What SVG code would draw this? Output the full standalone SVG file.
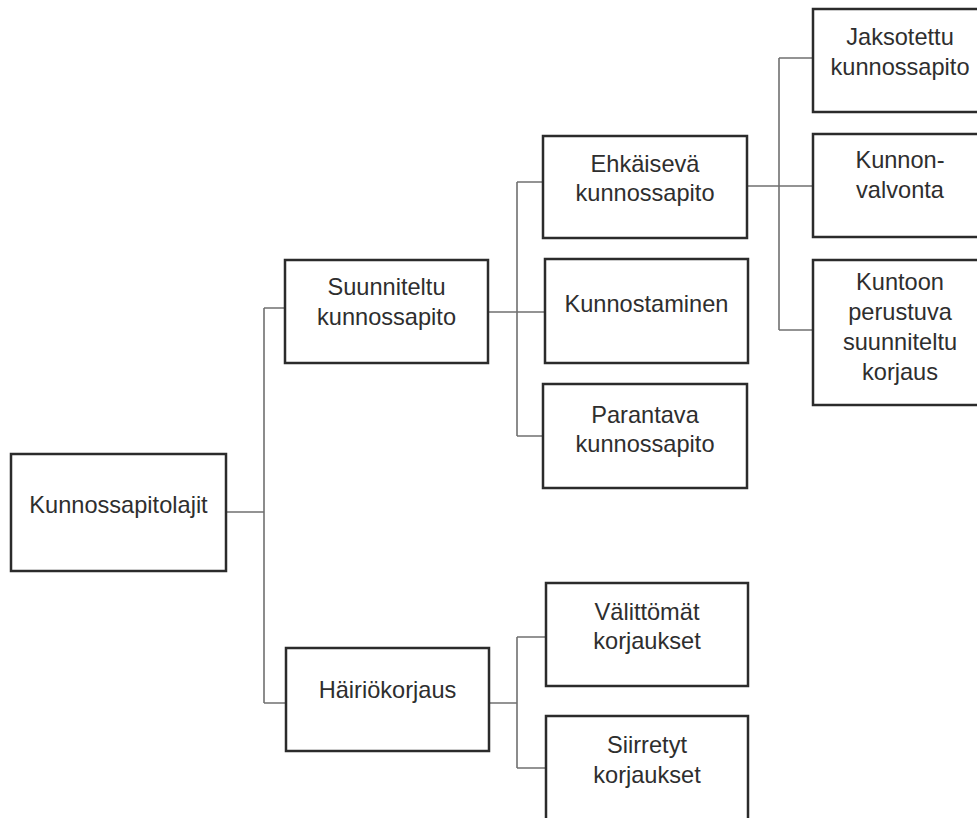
<svg xmlns="http://www.w3.org/2000/svg" width="977" height="818" viewBox="0 0 977 818">
<style>
  .box { fill: #ffffff; stroke: #2b2b2b; stroke-width: 2.5; }
  .lbl { font-family: "Liberation Sans", Arial, sans-serif; font-size: 23.6px; fill: #2e2e2e; text-anchor: middle; }
  .con { fill: none; stroke: #707070; stroke-width: 1.6; }
</style>
<rect width="977" height="818" fill="#ffffff"/>
<g id="connectors">
  <path class="con" d="M226,512 H264 M264,308 V703 M264,308 H285 M264,703 H286"/>
  <path class="con" d="M488,312 H545 M517,182 V436 M517,182 H543 M517,436 H543"/>
  <path class="con" d="M489,703 H517 M517,637 V768 M517,637 H546 M517,768 H546"/>
  <path class="con" d="M747,186 H813 M779,58 V330 M779,58 H813 M779,330 H813"/>
</g>
<g id="n-kunnossapitolajit">
  <rect class="box" x="11" y="454" width="215" height="117"/>
  <text class="lbl" x="118.5" y="513">Kunnossapitolajit</text>
</g>
<g id="n-suunniteltu">
  <rect class="box" x="285" y="260" width="203" height="103"/>
  <text class="lbl" x="386.5" y="295">Suunniteltu</text>
  <text class="lbl" x="386.5" y="325">kunnossapito</text>
</g>
<g id="n-hairiokorjaus">
  <rect class="box" x="286" y="648" width="203" height="103"/>
  <text class="lbl" x="387.5" y="698">Häiriökorjaus</text>
</g>
<g id="n-ehkaiseva">
  <rect class="box" x="543" y="136" width="204" height="102"/>
  <text class="lbl" x="645" y="172">Ehkäisevä</text>
  <text class="lbl" x="645" y="201">kunnossapito</text>
</g>
<g id="n-kunnostaminen">
  <rect class="box" x="545" y="259" width="203" height="104"/>
  <text class="lbl" x="646.5" y="312">Kunnostaminen</text>
</g>
<g id="n-parantava">
  <rect class="box" x="543" y="384" width="204" height="104"/>
  <text class="lbl" x="645" y="423">Parantava</text>
  <text class="lbl" x="645" y="452">kunnossapito</text>
</g>
<g id="n-valittomat">
  <rect class="box" x="546" y="583" width="202" height="103"/>
  <text class="lbl" x="647" y="620">Välittömät</text>
  <text class="lbl" x="647" y="649">korjaukset</text>
</g>
<g id="n-siirretyt">
  <rect class="box" x="546" y="716" width="202" height="110"/>
  <text class="lbl" x="647" y="753">Siirretyt</text>
  <text class="lbl" x="647" y="783">korjaukset</text>
</g>
<g id="n-jaksotettu">
  <rect class="box" x="813" y="9" width="174" height="103"/>
  <text class="lbl" x="900" y="45">Jaksotettu</text>
  <text class="lbl" x="900" y="75">kunnossapito</text>
</g>
<g id="n-kunnonvalvonta">
  <rect class="box" x="813" y="134" width="174" height="103"/>
  <text class="lbl" x="900" y="168">Kunnon-</text>
  <text class="lbl" x="900" y="198">valvonta</text>
</g>
<g id="n-kuntoon">
  <rect class="box" x="813" y="260" width="174" height="145"/>
  <text class="lbl" x="900" y="290">Kuntoon</text>
  <text class="lbl" x="900" y="320">perustuva</text>
  <text class="lbl" x="900" y="350">suunniteltu</text>
  <text class="lbl" x="900" y="380">korjaus</text>
</g>
</svg>
